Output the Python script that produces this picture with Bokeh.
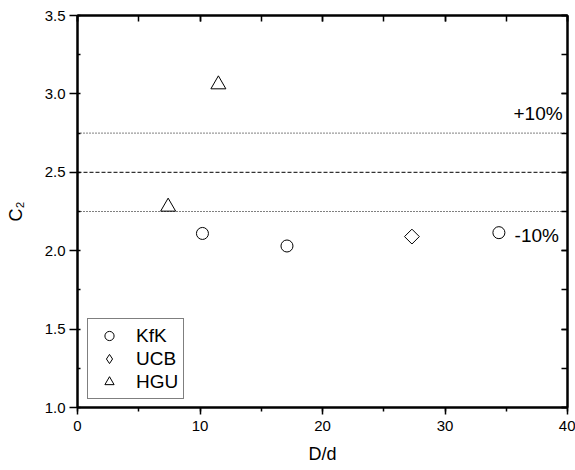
import math
from bokeh.plotting import figure
from bokeh.models import (Range1d, LinearAxis, SingleIntervalTicker, Legend, LegendItem,
                          Label, Span, NumeralTickFormatter)
from bokeh.embed import file_html
from bokeh.resources import INLINE

# ---- data ----
kfk_x = [10.2, 17.1, 34.4]
kfk_y = [2.11, 2.03, 2.115]
ucb_x = [27.3]
ucb_y = [2.09]
hgu_x = [7.4, 11.5]
hgu_y = [2.28, 3.06]
ref_value = 2.5
band_hi = 2.75
band_lo = 2.25
series_names = ["KfK", "UCB", "HGU"]

FONT = "Liberation Sans"

p = figure(width=575, height=470, output_backend="svg", toolbar_location=None,
           x_range=Range1d(0, 40), y_range=Range1d(1.0, 3.5),
           x_axis_type=None, y_axis_type=None,
           min_border_left=77, min_border_top=15, min_border_right=8, min_border_bottom=63)
p.background_fill_color = "white"
p.border_fill_color = "white"
p.outline_line_color = "black"
p.outline_line_width = 2
p.xgrid.visible = False
p.ygrid.visible = False

# bottom axis
xb = LinearAxis(ticker=SingleIntervalTicker(interval=10, num_minor_ticks=2), axis_label="D/d")
# left axis
yl = LinearAxis(ticker=SingleIntervalTicker(interval=0.5, num_minor_ticks=2), axis_label="C\u2082",
                formatter=NumeralTickFormatter(format="0.0"))
for ax in (xb, yl):
    ax.axis_line_width = 2
    ax.axis_line_color = "black"
    ax.major_tick_line_width = 1.5
    ax.minor_tick_line_width = 1.5
    ax.major_label_text_font = FONT
    ax.major_label_text_font_size = "15px"
    ax.major_label_text_color = "black"
    ax.axis_label_text_font = FONT
    ax.axis_label_text_font_size = "18px"
    ax.axis_label_text_font_style = "normal"
    ax.axis_label_text_color = "black"
xb.major_tick_out = 7
xb.major_tick_in = 0
xb.minor_tick_out = 4
xb.minor_tick_in = 0
xb.major_label_standoff = 6
xb.axis_label_standoff = 10
yl.major_tick_out = 8
yl.major_tick_in = 0
yl.minor_tick_out = 0
yl.minor_tick_in = 3
yl.major_label_standoff = 4
yl.axis_label_standoff = 16
yl.major_label_orientation = "horizontal"
p.add_layout(xb, "below")
p.add_layout(yl, "left")

# top and right axes (ticks only, inward)
xt = LinearAxis(ticker=SingleIntervalTicker(interval=10, num_minor_ticks=2))
yr = LinearAxis(ticker=SingleIntervalTicker(interval=0.5, num_minor_ticks=2))
for ax in (xt, yr):
    ax.axis_line_width = 2
    ax.major_tick_line_width = 1.5
    ax.minor_tick_line_width = 1.5
    ax.major_tick_out = 0
    ax.minor_tick_out = 0
    ax.major_tick_in = 6
    ax.minor_tick_in = 6
    ax.major_label_text_font_size = "1px"
    ax.major_label_text_color = None
    ax.major_label_standoff = 0
p.add_layout(xt, "above")
p.add_layout(yr, "right")

# reference lines
p.add_layout(Span(location=band_hi, dimension="width", line_color="black",
                  line_width=1, line_dash="1 2"))
p.add_layout(Span(location=ref_value, dimension="width", line_color="black",
                  line_width=1, line_dash="4 2"))
p.add_layout(Span(location=band_lo, dimension="width", line_color="black",
                  line_width=1, line_dash="1 2"))

# markers
r_kfk = p.scatter(kfk_x, kfk_y, marker="circle", size=12, fill_color="white",
                  line_color="black", line_width=1)
# diamond glyph used for the legend (hidden under the rotated square in the plot)
r_ucb_leg = p.scatter(ucb_x, ucb_y, marker="diamond", size=10, fill_color="white",
                      line_color="black", line_width=1)
r_ucb = p.scatter(ucb_x, ucb_y, marker="square", size=10.5, angle=math.pi / 4,
                  fill_color="white", line_color="black", line_width=1)
r_hgu = p.scatter(hgu_x, hgu_y, marker="triangle", size=15, fill_color="white",
                  line_color="black", line_width=1)

# annotations
p.add_layout(Label(x=39.6, y=2.875, text="+10%", text_align="right", text_baseline="middle",
                   text_font=FONT, text_font_size="19px", text_color="black"))
p.add_layout(Label(x=39.3, y=2.095, text="-10%", text_align="right", text_baseline="middle",
                   text_font=FONT, text_font_size="19px", text_color="black"))

legend = Legend(items=[LegendItem(label=series_names[0], renderers=[r_kfk]),
                       LegendItem(label=series_names[1], renderers=[r_ucb_leg]),
                       LegendItem(label=series_names[2], renderers=[r_hgu])],
                location=(10, 8))
legend.label_text_font = FONT
legend.label_text_font_size = "19px"
legend.label_text_color = "black"
legend.border_line_color = "black"
legend.border_line_width = 1.2
legend.background_fill_color = "white"
legend.padding = 5
legend.spacing = 0
legend.glyph_width = 32
legend.glyph_height = 23
legend.label_height = 20
legend.label_standoff = 11
legend.margin = 0
p.add_layout(legend, "center")

open("out.html", "w").write(file_html(p, INLINE))
